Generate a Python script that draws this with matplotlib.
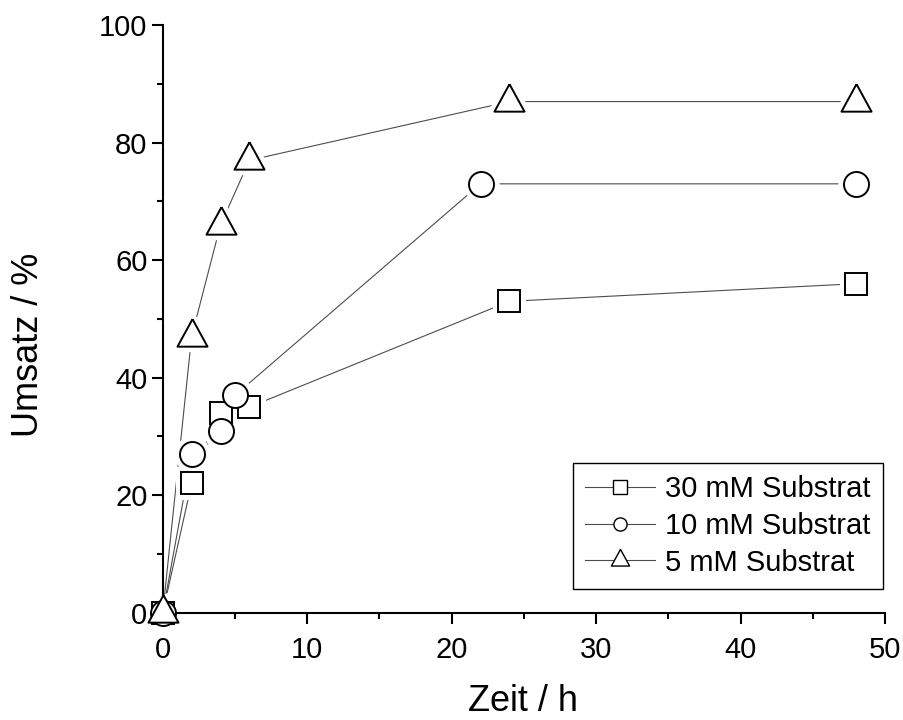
import matplotlib
matplotlib.use('Agg')
import matplotlib.pyplot as plt
from matplotlib.lines import Line2D
from matplotlib.ticker import MultipleLocator

plt.rcParams['font.family'] = ['Liberation Sans', 'DejaVu Sans']

# Umsatz (%) ueber Zeit (h) fuer drei Substratkonzentrationen
zeit_30 = [0, 2, 4, 6, 24, 48]
umsatz_30 = [0, 22, 34, 35, 53, 56]
zeit_10 = [0, 2, 4, 5, 22, 48]
umsatz_10 = [0, 27, 31, 37, 73, 73]
zeit_5 = [0, 2, 4, 6, 24, 48]
umsatz_5 = [0, 47, 66, 77, 87, 87]
labels = ['30 mM Substrat', '10 mM Substrat', '5 mM Substrat']

# Dreieck mit Schwerpunkt im Datenpunkt (wie in Origin)
tri = [(0, 1), (-0.82, -0.5), (0.82, -0.5), (0, 1)]

series = [
    (zeit_30, umsatz_30, 's', 16.5, 9.5),
    (zeit_10, umsatz_10, 'o', 18, 9.5),
    (zeit_5, umsatz_5, tri, 26.4, 16),
]

fig = plt.figure(figsize=(9.04, 7.2), dpi=100)
ax = fig.add_axes([0.180, 0.149, 0.799, 0.816])

line_col = '0.3'
for x, y, m, ms, _ in series:
    ax.plot(x, y, '-', color=line_col, lw=0.8, zorder=2)
# weisser Rand um die Symbole -> Luecke zwischen Linie und Symbol
for x, y, m, ms, _ in series:
    ax.plot(x, y, ls='none', marker=m, ms=ms, mfc='white', mec='white',
            mew=8, zorder=2.2)
for x, y, m, ms, _ in series:
    ax.plot(x, y, ls='none', marker=m, ms=ms, mfc='white', mec='black',
            mew=1.4, zorder=4, clip_on=False)

ax.set_xlim(0, 50)
ax.set_ylim(0, 100)
ax.xaxis.set_major_locator(MultipleLocator(10))
ax.xaxis.set_minor_locator(MultipleLocator(5))
ax.yaxis.set_major_locator(MultipleLocator(20))
ax.yaxis.set_minor_locator(MultipleLocator(10))

for s in ['top', 'right']:
    ax.spines[s].set_visible(False)
for s in ['left', 'bottom']:
    ax.spines[s].set_linewidth(1.5)

ax.tick_params(which='both', direction='out', width=1.5, labelsize=21)
ax.tick_params(which='major', length=8)
ax.tick_params(which='minor', length=4)
ax.tick_params(axis='x', pad=9)
ax.tick_params(axis='y', pad=3)

ax.set_xlabel('Zeit / h', fontsize=26)
ax.set_ylabel('Umsatz / %', fontsize=26)
ax.xaxis.set_label_coords(0.499, -0.121)
ax.yaxis.set_label_coords(-0.161, 0.456)

handles = []
for x, y, m, ms, lms in series:
    handles.append(Line2D([], [], color=line_col, lw=0.8, marker=m, ms=lms,
                          mfc='white', mec='black', mew=1.0))
leg = ax.legend(handles, labels, loc='upper right',
                bbox_to_anchor=(0.997, 0.255), borderaxespad=0,
                fontsize=21, handlelength=2.4, handletextpad=0.35,
                labelspacing=0.3, borderpad=0.42, fancybox=False,
                framealpha=1, edgecolor='black', numpoints=1)
leg.get_frame().set_linewidth(1.0)

fig.savefig('out.png', dpi=100)
